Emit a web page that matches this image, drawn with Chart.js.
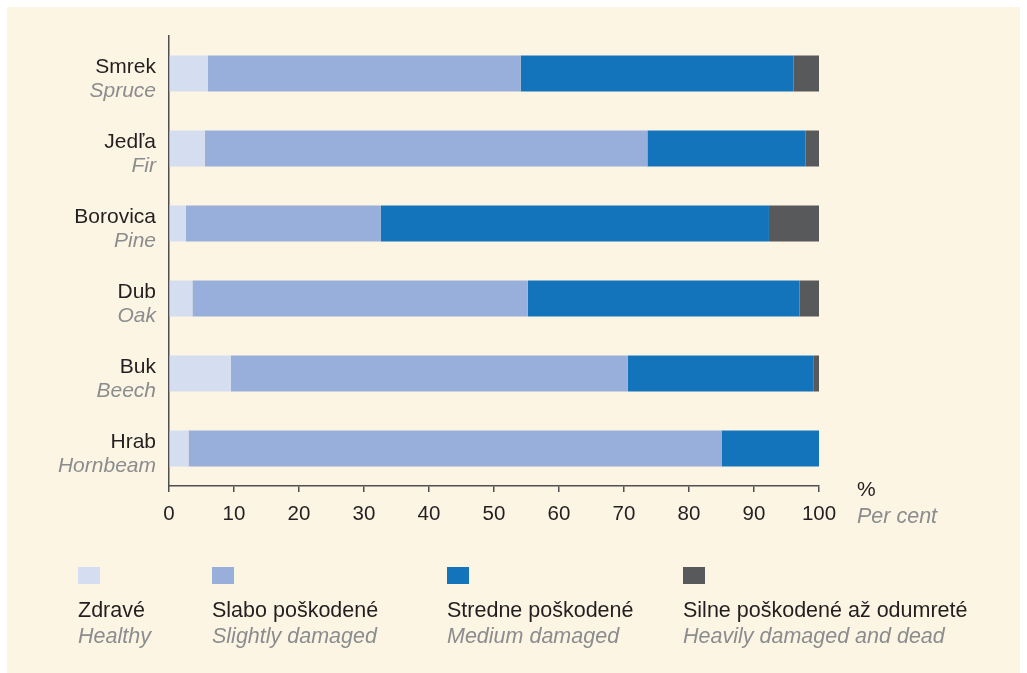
<!DOCTYPE html>
<html>
<head>
<meta charset="utf-8">
<script src="https://cdn.jsdelivr.net/npm/chart.js@4.4.1/dist/chart.umd.min.js"></script>
<style>
  html, body { margin: 0; padding: 0; background: #ffffff; }
  #panel { position: absolute; left: 7px; top: 7px; width: 1013px; height: 666px; background: #fdf5e4; }
  canvas { display: block; }
</style>
</head>
<body>
<div id="panel"><canvas id="graf" width="1013" height="666"></canvas></div>
<script>
// --- Dáta ---
const druhy = ['Smrek', 'Jedľa', 'Borovica', 'Dub', 'Buk', 'Hrab'];
const druhyEn = ['Spruce', 'Fir', 'Pine', 'Oak', 'Beech', 'Hornbeam'];
const zdrave = [6.0, 5.5, 2.6, 3.6, 9.5, 3.0];
const slabo = [48.1, 68.1, 30.0, 51.6, 61.1, 82.0];
const stredne = [42.0, 24.3, 59.7, 41.8, 28.6, 15.0];
const silne = [3.9, 2.1, 7.7, 3.0, 0.8, 0];
const xTicks = [0, 10, 20, 30, 40, 50, 60, 70, 80, 90, 100];
const legendaSk = ['Zdravé', 'Slabo poškodené', 'Stredne poškodené', 'Silne poškodené až odumreté'];
const legendaEn = ['Healthy', 'Slightly damaged', 'Medium damaged', 'Heavily damaged and dead'];

const FONT = "'Liberation Sans', Arial, sans-serif";
const CIERNA = '#231f20';
const SIVA = '#8a8c8e';
const OS = '#4f4f4f';

// --- Popisky a legenda kreslené ručne ---
const popisky = {
    id: 'popisky',
    afterDraw(chart) {
        const ctx = chart.ctx;
        const y = chart.scales.y;
        const x = chart.scales.x;
        ctx.save();
        ctx.textAlign = 'right';
        ctx.textBaseline = 'alphabetic';
        druhy.forEach((d, i) => {
            const py = y.getPixelForValue(i);
            ctx.font = '21px ' + FONT;
            ctx.fillStyle = CIERNA;
            ctx.fillText(d, 149, py - 1);
            ctx.font = 'italic 21px ' + FONT;
            ctx.fillStyle = SIVA;
            ctx.fillText(druhyEn[i], 149, py + 23);
        });

        // jednotka osi
        ctx.textAlign = 'left';
        ctx.font = '21px ' + FONT;
        ctx.fillStyle = CIERNA;
        ctx.fillText('%', x.right + 38, 489);
        ctx.font = 'italic 21.5px ' + FONT;
        ctx.fillStyle = SIVA;
        ctx.fillText('Per cent', x.right + 38, 516);

        // legenda
        const stlpce = [71, 205, 440, 676];
        chart.data.datasets.forEach((ds, i) => {
            const lx = stlpce[i];
            ctx.fillStyle = ds.backgroundColor;
            ctx.fillRect(lx, 560, 22, 17);
            ctx.font = '21.5px ' + FONT;
            ctx.fillStyle = CIERNA;
            ctx.fillText(legendaSk[i], lx, 610);
            ctx.font = 'italic 21.5px ' + FONT;
            ctx.fillStyle = SIVA;
            ctx.fillText(legendaEn[i], lx, 636);
        });
        ctx.restore();
    }
};

new Chart(document.getElementById('graf'), {
    type: 'bar',
    data: {
        labels: druhy,
        datasets: [
            { label: legendaSk[0], data: zdrave, backgroundColor: '#d5ddf0' },
            { label: legendaSk[1], data: slabo, backgroundColor: '#97afda' },
            { label: legendaSk[2], data: stredne, backgroundColor: '#1474bb' },
            { label: legendaSk[3], data: silne, backgroundColor: '#58595b' }
        ]
    },
    options: {
        indexAxis: 'y',
        responsive: false,
        animation: false,
        events: [],
        layout: { padding: { top: 29, right: 201, left: 0, bottom: 0 } },
        datasets: { bar: { categoryPercentage: 1, barPercentage: 0.48, borderWidth: 0 } },
        plugins: { legend: { display: false }, tooltip: { enabled: false } },
        scales: {
            x: {
                stacked: true,
                min: 0,
                max: 100,
                afterBuildTicks: s => { s.ticks = xTicks.map(v => ({ value: v })); },
                afterFit: s => { s.height = 187; },
                ticks: { font: { family: FONT, size: 20.5 }, color: CIERNA, padding: 10, maxRotation: 0 },
                grid: { drawOnChartArea: false, drawTicks: true, tickLength: 6, color: OS, lineWidth: 1.5 },
                border: { display: true, color: OS, width: 1.5 }
            },
            y: {
                stacked: true,
                afterFit: s => { s.width = 162; },
                ticks: { display: false },
                grid: { display: false },
                border: { display: true, color: OS, width: 1.5 }
            }
        }
    },
    plugins: [popisky]
});
</script>
</body>
</html>
